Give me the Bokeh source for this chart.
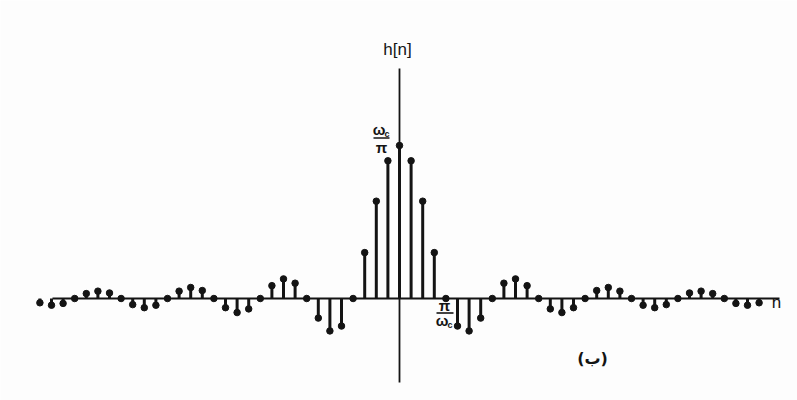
from bokeh.plotting import figure
from bokeh.models import Label, ColumnDataSource
from bokeh.core.properties import value
from bokeh.embed import file_html
from bokeh.resources import INLINE

# sample index n and impulse response h[n] (wc = pi/4)
n_vals = list(range(-31, 32))
h_pos = [0.250, 0.225, 0.159, 0.075, 0.0, -0.045, -0.053, -0.032,
         0.0, 0.025, 0.032, 0.021, 0.0, -0.017, -0.023, -0.015,
         0.0, 0.013, 0.018, 0.012, 0.0, -0.011, -0.015, -0.010,
         0.0, 0.009, 0.012, 0.008, 0.0, -0.008, -0.011, -0.007]
h_vals = h_pos[:0:-1] + h_pos  # symmetric h[-n] = h[n]

axis_label = "h[n]"
n_label = "n"
panel_label = "(ب)"

# pixel mapping helpers (layout only)
X0, SX = 399.0, 11.6
Y0, SY = 298.0, 612.0
W, H = 797, 400

p = figure(width=W, height=H, output_backend="svg", toolbar_location=None,
           x_range=(-X0 / SX, (W - X0) / SX), y_range=(-(H - Y0) / SY, Y0 / SY),
           min_border=0, min_border_left=0, min_border_right=0,
           min_border_top=0, min_border_bottom=0)
p.axis.visible = False
p.grid.visible = False
p.outline_line_color = None
p.background_fill_color = "#fdfdfd"
p.border_fill_color = "#fdfdfd"

ink = "#141414"

def px_x(px):
    return (px - X0) / SX

def px_y(py):
    return (Y0 - py) / SY

# horizontal n axis
p.segment(x0=[px_x(52)], y0=[0], x1=[px_x(779)], y1=[0], line_color=ink, line_width=2)
# vertical axis
p.segment(x0=[0], y0=[px_y(382)], x1=[0], y1=[px_y(68)], line_color=ink, line_width=1.8)

src = ColumnDataSource(dict(n=n_vals, h=h_vals, z=[0] * len(n_vals)))
p.segment(x0="n", y0="z", x1="n", y1="h", source=src, line_color=ink, line_width=3)
p.scatter(x="n", y="h", source=src, size=6.5, color=ink)

font = "Liberation Sans"

p.add_layout(Label(x=px_x(397), y=px_y(49), text=axis_label, text_align="center",
                   text_baseline="middle", text_font_size="17px", text_font=font,
                   text_color=ink))
p.add_layout(Label(x=px_x(776), y=px_y(302), text=n_label, text_align="center",
                   text_baseline="middle", text_font_size="17px", text_font=font,
                   text_color=ink))

# wc / pi fraction near the peak
p.add_layout(Label(x=px_x(378.5), y=px_y(129), text="ω", text_align="center",
                   text_baseline="middle", text_font_size="15px", text_font=font,
                   text_color=ink, text_font_style="bold"))
p.add_layout(Label(x=px_x(386.5), y=px_y(133), text="c", text_align="center",
                   text_baseline="middle", text_font_size="9px", text_font=font,
                   text_color=ink, text_font_style="bold"))
p.segment(x0=[px_x(373)], y0=[px_y(137.5)], x1=[px_x(389)], y1=[px_y(137.5)],
          line_color=ink, line_width=1.6)
p.add_layout(Label(x=px_x(381), y=px_y(147), text="π", text_align="center",
                   text_baseline="middle", text_font_size="15px", text_font=font,
                   text_color=ink, text_font_style="bold"))

# pi / wc fraction near the first zero crossing
p.add_layout(Label(x=px_x(444), y=px_y(305), text="π", text_align="center",
                   text_baseline="middle", text_font_size="15px", text_font=font,
                   text_color=ink, text_font_style="bold"))
p.segment(x0=[px_x(436)], y0=[px_y(312.5)], x1=[px_x(453)], y1=[px_y(312.5)],
          line_color=ink, line_width=1.6)
p.add_layout(Label(x=px_x(441.5), y=px_y(320), text="ω", text_align="center",
                   text_baseline="middle", text_font_size="15px", text_font=font,
                   text_color=ink, text_font_style="bold"))
p.add_layout(Label(x=px_x(449.5), y=px_y(324), text="c", text_align="center",
                   text_baseline="middle", text_font_size="9px", text_font=font,
                   text_color=ink, text_font_style="bold"))

p.add_layout(Label(x=px_x(592), y=px_y(358), text=panel_label, text_align="center",
                   text_baseline="middle", text_font_size="16px", text_font="DejaVu Sans",
                   text_color=ink, text_font_style="bold"))

open("out.html", "w").write(file_html(p, INLINE))
